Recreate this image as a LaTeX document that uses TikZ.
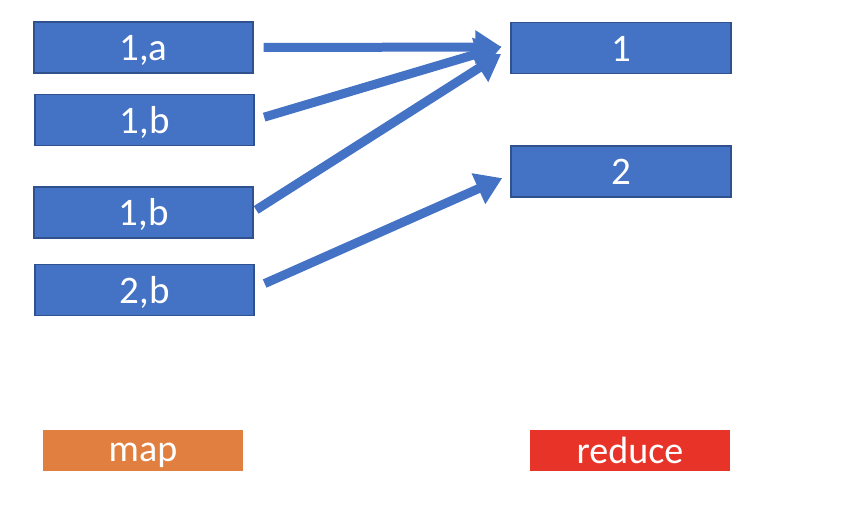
\documentclass[tikz,border=0pt]{standalone}
\usepackage{fontspec}
\setmainfont{Carlito}
\usetikzlibrary{arrows.meta}
\definecolor{boxblue}{HTML}{4472C4}
\definecolor{boxedge}{HTML}{2F528F}
\definecolor{maporange}{HTML}{E07F40}
\definecolor{redred}{HTML}{E83428}
\tikzset{
  kv/.style={draw=boxedge, line width=1.2pt, fill=boxblue, text=white, inner sep=0pt,
    minimum width=219pt, minimum height=51pt, font=\fontsize{39}{41}\selectfont,
    text height=26.6pt, text depth=0pt},
  tag/.style={fill=#1, text=white, inner sep=0pt, minimum width=200pt, minimum height=41pt,
    font=\fontsize{38}{40}\selectfont, text depth=0pt},
  flow/.style={draw=boxblue, line width=9pt, -{Triangle[length=26pt,width=32pt]}}
}
\begin{document}
\begin{tikzpicture}[x=1pt,y=-1pt]
\useasboundingbox (0,0) rectangle (860,522);
\node[kv] (a1) at (143.5,47.5) {1,a};
\node[kv] (a2) at (144.5,120) {1,b};
\node[kv] (a3) at (143.5,212.5) {1,b};
\node[kv] (a4) at (144.5,290) {2,b};
\node[kv, minimum width=220pt] (r1) at (621,48) {1};
\node[kv, minimum width=220pt] (r2) at (621,171.5) {2};
\node[tag=maporange, text height=22.7pt] (m) at (143,450.5) {map};
\node[tag=redred, text height=26.7pt] (rd) at (630,450.5) {reduce};
\draw[flow, shorten <=10pt, shorten >=9pt] (a1.east) -- ([yshift=1pt]r1.west);
\draw[flow, shorten <=10pt, shorten >=9pt] (a2.east) -- ([yshift=4pt]r1.west);
\draw[flow, shorten <=3pt, shorten >=11pt] ([yshift=1pt]a3.east) -- (r1.west);
\draw[flow, shorten <=11pt, shorten >=9pt] ([yshift=2pt]a4.east) -- ([yshift=-3pt]r2.west);
\end{tikzpicture}
\end{document}
